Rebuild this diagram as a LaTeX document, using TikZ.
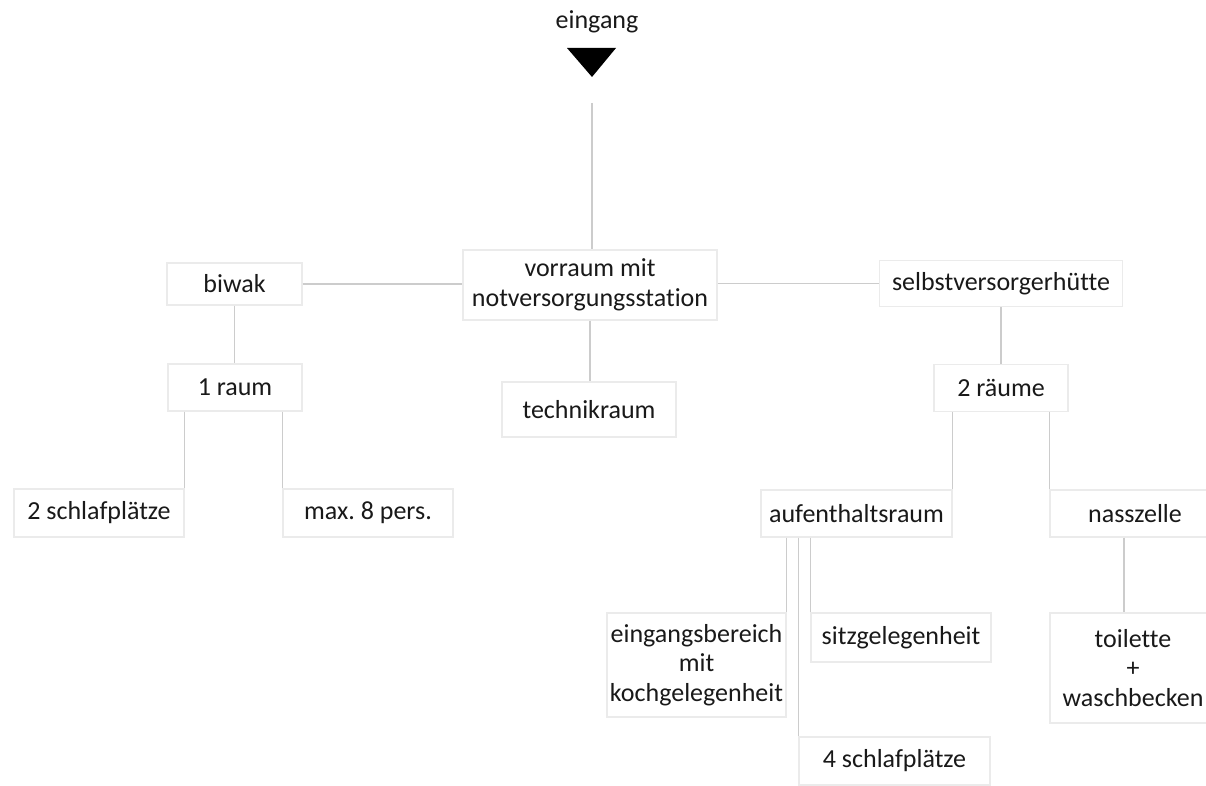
\documentclass[tikz,border=0pt]{standalone}
\usepackage{fontspec}
\setmainfont{Carlito}[Ligatures=NoCommon]
\frenchspacing
\begin{document}
\begin{tikzpicture}[x=1pt,y=-1pt,
  every node/.style={font=\fontsize{26}{29.5}\selectfont, text=black!90, align=center, inner sep=0pt},
  room/.style={draw=black!8, line width=1.4pt, fill=white},
  link/.style={draw=black!20, line width=1.5pt}]
\clip (0,0) rectangle (1206,786);
\fill[white] (0,0) rectangle (1206,786);

% entrance marker
\node (eingang) at (597,22) {eingang};
\fill[black] (567,48) -- (616,48) -- (592,77) -- cycle;
\coordinate (entry) at (592,103);

% first level
\node[room, minimum width=254pt, minimum height=70pt] (vorraum) at (590,285) {vorraum mit\\notversorgungsstation};
\node[room, minimum width=135pt, minimum height=42pt] (biwak) at (234.5,284) {biwak};
\node[room, minimum width=243pt, minimum height=46pt] (selbst) at (1001,283.5) {selbstversorgerhütte};

% second level
\node[room, minimum width=134pt, minimum height=47pt] (raum1) at (235,387.5) {1 raum};
\node[room, minimum width=174pt, minimum height=55pt] (technik) at (589,409.5) {technikraum};
\node[room, minimum width=134pt, minimum height=47pt] (raeume2) at (1001,388) {2 räume};

% third level
\node[room, minimum width=170pt, minimum height=48pt] (schlaf2) at (99,513) {2 schlafplätze};
\node[room, minimum width=170pt, minimum height=48pt] (maxpers) at (368,513) {max. 8 pers.};
\node[room, minimum width=191pt, minimum height=47pt] (aufent) at (856.5,513.5) {aufenthaltsraum};
\node[room, minimum width=170pt, minimum height=47pt] (nass) at (1135,513.5) {nasszelle};

% fourth level
\node[room, minimum width=179pt, minimum height=104pt] (eingber) at (696.5,665) {eingangsbereich\\mit\\kochgelegenheit};
\node[room, minimum width=180pt, minimum height=49pt] (sitz) at (901,637.5) {sitzgelegenheit};
\node[room, minimum width=191pt, minimum height=48pt] (schlaf4) at (894.5,761) {4 schlafplätze};
\node[room, minimum width=166pt, minimum height=110pt] (toil) at (1133,668) {toilette\\+\\waschbecken};

% connectors
\draw[link] (entry) -- (entry |- vorraum.north);
\draw[link] (biwak.east) -- (biwak.east -| vorraum.west);
\draw[link] (vorraum.east |- selbst.west) -- (selbst.west);
\draw[link] (biwak.south) -- (biwak.south |- raum1.north);
\draw[link] (vorraum.south) -- (vorraum.south |- technik.north);
\draw[link] (selbst.south) -- (selbst.south |- raeume2.north);
\draw[link] (raum1.south -| schlaf2.north east) -- (schlaf2.north east);
\draw[link] (raum1.south -| maxpers.north west) -- (maxpers.north west);
\draw[link] (raeume2.south -| aufent.north east) -- (aufent.north east);
\draw[link] (raeume2.south -| nass.north west) -- (nass.north west);
\draw[link] (aufent.south -| eingber.north east) -- (eingber.north east);
\draw[link] (aufent.south -| schlaf4.north west) -- (schlaf4.north west);
\draw[link] (aufent.south -| sitz.north west) -- (sitz.north west);
\draw[link] ([xshift=-11pt]nass.south) -- ([xshift=-11pt]nass.south |- toil.north);
\end{tikzpicture}
\end{document}
